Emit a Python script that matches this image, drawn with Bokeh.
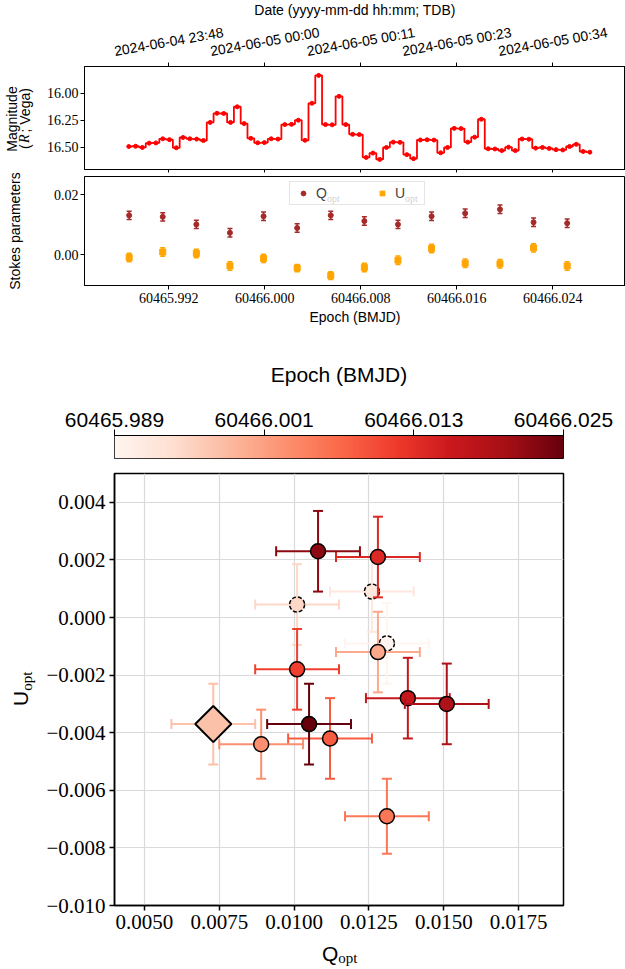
import datetime as dt
import numpy as np
from bokeh.plotting import figure
from bokeh.layouts import column, row
from bokeh.models import (Range1d, FixedTicker, LinearAxis, Label, Legend, LegendItem,
                          CustomJSTickFormatter, LinearColorMapper, CustomLabelingPolicy)
from bokeh.core.properties import value
from bokeh.embed import file_html
from bokeh.resources import INLINE

# ---------------- data ----------------
# R-band light curve (BMJD, Vega magnitude)
lc_epoch = [60465.98867, 60465.98924, 60465.98980, 60465.99037, 60465.99093, 60465.99150,
            60465.99206, 60465.99263, 60465.99319, 60465.99376, 60465.99432, 60465.99489,
            60465.99545, 60465.99602, 60465.99658, 60465.99715, 60465.99771, 60465.99828,
            60465.99884, 60465.99941, 60465.99997, 60466.00054, 60466.00110, 60466.00167,
            60466.00223, 60466.00280, 60466.00336, 60466.00393, 60466.00449, 60466.00506,
            60466.00562, 60466.00619, 60466.00675, 60466.00732, 60466.00788, 60466.00845,
            60466.00901, 60466.00958, 60466.01014, 60466.01071, 60466.01127, 60466.01184,
            60466.01240, 60466.01297, 60466.01353, 60466.01410, 60466.01466, 60466.01523,
            60466.01579, 60466.01636, 60466.01692, 60466.01749, 60466.01805, 60466.01862,
            60466.01918, 60466.01975, 60466.02031, 60466.02088, 60466.02144, 60466.02201,
            60466.02257, 60466.02314, 60466.02370, 60466.02427, 60466.02483, 60466.02540,
            60466.02596, 60466.02653, 60466.02709]
lc_mag = [16.491, 16.489, 16.500, 16.460, 16.458, 16.420, 16.428, 16.503, 16.408, 16.420,
          16.423, 16.436, 16.269, 16.185, 16.187, 16.269, 16.125, 16.280, 16.416, 16.457,
          16.455, 16.420, 16.423, 16.289, 16.287, 16.249, 16.434, 16.093, 15.836, 16.289,
          16.291, 16.029, 16.289, 16.379, 16.381, 16.592, 16.552, 16.610, 16.500, 16.451,
          16.453, 16.566, 16.603, 16.431, 16.429, 16.432, 16.549, 16.500, 16.324, 16.326,
          16.451, 16.405, 16.240, 16.512, 16.514, 16.529, 16.497, 16.529, 16.422, 16.424,
          16.506, 16.500, 16.509, 16.520, 16.523, 16.491, 16.471, 16.537, 16.543]

# optical Stokes parameters
pol_epoch = [60465.9887, 60465.9915, 60465.9943, 60465.9971, 60465.9999, 60466.0027, 60466.0055,
             60466.0083, 60466.0111, 60466.0139, 60466.0167, 60466.0196, 60466.0224, 60466.0252]
q_opt = [0.0131, 0.0126, 0.0101, 0.0073, 0.0128, 0.0089, 0.0131,
         0.0112, 0.0101, 0.0128, 0.0138, 0.0151, 0.0108, 0.0105]
q_err = [0.0014, 0.0014, 0.0014, 0.0014, 0.0014, 0.0014, 0.0014,
         0.0014, 0.0014, 0.0014, 0.0014, 0.0014, 0.0014, 0.0014]
u_opt = [-0.0009, 0.0009, 0.00045, -0.0037, -0.0012, -0.0044, -0.0069,
         -0.0042, -0.0018, 0.0021, -0.0028, -0.0030, 0.0023, -0.0037]
u_err = [0.0014, 0.0014, 0.0014, 0.0014, 0.0014, 0.0012, 0.0013,
         0.0014, 0.0014, 0.0014, 0.0014, 0.0014, 0.0014, 0.0014]

epoch_ticks = [60465.992, 60466.000, 60466.008, 60466.016, 60466.024]
mag_ticks = [16.00, 16.25, 16.50]
stokes_ticks = [0.00, 0.02]
q_ticks = [0.0050, 0.0075, 0.0100, 0.0125, 0.0150, 0.0175]
u_ticks = [-0.010, -0.008, -0.006, -0.004, -0.002, 0.000, 0.002, 0.004]

# ---------------- style ----------------
SANS = "Liberation Sans"
SERIF = "Liberation Serif"
W = 625
STRIP = 40                 # width of the side strips that hold rotated titles
DASHED_EDGE = {0, 1, 2}    # earliest points drawn with dashed outlines
HIGHLIGHT = 3              # point drawn as a large diamond
Q_COLOR = "#a52a2a"
U_COLOR = "#ffa500"

REDS = ['#fff5f0', '#fee0d2', '#fcbba1', '#fc9272', '#fb6a4a',
        '#ef3b2c', '#cb181d', '#a50f15', '#67000d']


def reds(t):
    t = min(max(t, 0.0), 1.0) * (len(REDS) - 1)
    i = min(int(t), len(REDS) - 2)
    f = t - i
    a = [int(REDS[i][k:k + 2], 16) for k in (1, 3, 5)]
    b = [int(REDS[i + 1][k:k + 2], 16) for k in (1, 3, 5)]
    return "#%02x%02x%02x" % tuple(int(round(x + (y - x) * f)) for x, y in zip(a, b))


PALETTE = [reds(i / 255) for i in range(256)]


def mjd_to_label(mjd):
    t = dt.datetime(1858, 11, 17) + dt.timedelta(days=mjd)
    return t.strftime("%Y-%m-%d %H:%M")


def tidy_axis(ax, font=SERIF, size="14px", tick_out=4, standoff=2, width=1):
    ax.major_tick_in = 0
    ax.major_tick_out = tick_out
    ax.minor_tick_in = 0
    ax.minor_tick_out = 0
    ax.major_tick_line_width = width
    ax.axis_line_width = width
    ax.axis_line_color = "black"
    ax.major_tick_line_color = "black"
    ax.major_label_text_font = font
    ax.major_label_text_font_size = size
    ax.major_label_text_color = "black"
    ax.major_label_standoff = standoff


def make_fig(**kw):
    p = figure(output_backend="svg", toolbar_location=None, frame_align=False,
               background_fill_color="white", border_fill_color="white", **kw)
    p.outline_line_color = "black"
    p.outline_line_width = 1
    return p


def text_panel(width, height, x_range=None):
    """A bare figure whose frame fills the canvas; used to hold free text."""
    p = make_fig(width=width, height=height,
                 x_range=x_range if x_range is not None else Range1d(0, width),
                 y_range=Range1d(0, height), x_axis_location=None, y_axis_location=None,
                 min_border_left=0, min_border_right=0, min_border_top=0,
                 min_border_bottom=0)
    p.outline_line_color = None
    p.grid.visible = False
    return p


def put_text(p, x, y, text, font=SANS, size="14px", angle=0.0, align="center",
             style="normal"):
    p.text(x=[x], y=[y], text=[text], angle=angle, text_font=value(font),
           text_font_size=value(size), text_font_style=value(style),
           text_align=value(align), text_baseline=value("middle"), text_color="black")


def note(p, text, x, y, font=SANS, size="14px"):
    p.add_layout(Label(x=x, y=y, x_units="screen", y_units="screen", text=text,
                       text_align="left", text_baseline="middle", text_font=font,
                       text_font_size=size, text_color="black"))


fmt2 = CustomJSTickFormatter(code="return tick.toFixed(2);")
fmt3 = CustomJSTickFormatter(code="return tick.toFixed(3);")
no_labels = CustomLabelingPolicy(code="for (const i of indices) indices.unset(i);")

# ---------------- date header ----------------
x0, x1 = 60465.98498, 60466.03006
shared_x = Range1d(x0, x1)
LC_FRAME_LEFT = 84
per_px = (x1 - x0) / (W - LC_FRAME_LEFT)
HEAD_H = 58
header = text_panel(W, HEAD_H, Range1d(x0 - LC_FRAME_LEFT * per_px, x1))
for t in epoch_ticks:
    put_text(header, t, HEAD_H - 41, mjd_to_label(t), angle=np.deg2rad(10))
put_text(header, (x0 + x1) / 2, HEAD_H - 9.5, "Date (yyyy-mm-dd hh:mm; TDB)")

# ---------------- light curve panel ----------------
LC_H = 118
p_lc = make_fig(width=W - STRIP, height=LC_H, x_range=shared_x,
                y_range=Range1d(16.703, 15.754), x_axis_location=None,
                y_axis_location=None, min_border_left=LC_FRAME_LEFT - STRIP,
                min_border_right=0, min_border_top=6, min_border_bottom=3)
p_lc.grid.visible = False
ax = LinearAxis(ticker=FixedTicker(ticks=mag_ticks), formatter=fmt2)
tidy_axis(ax)
p_lc.add_layout(ax, "left")
for side, out in (("above", 4), ("below", 3)):
    ax = LinearAxis(ticker=FixedTicker(ticks=epoch_ticks), formatter=fmt3)
    tidy_axis(ax, standoff=0, tick_out=out, size="1px")
    ax.major_label_policy = no_labels
    p_lc.add_layout(ax, side)

p_lc.step(lc_epoch, lc_mag, mode="center", line_color="#ff0000", line_width=1.8)
p_lc.scatter(lc_epoch, lc_mag, size=4, color="#ff0000")

# ---------------- Stokes parameters panel ----------------
POL_H = 154
p_pol = make_fig(width=W - STRIP, height=POL_H, x_range=shared_x,
                 y_range=Range1d(-0.0102, 0.026), x_axis_location=None,
                 y_axis_location=None, min_border_left=LC_FRAME_LEFT - STRIP,
                 min_border_right=0, min_border_top=0, min_border_bottom=45)
p_pol.grid.visible = False
ax = LinearAxis(ticker=FixedTicker(ticks=stokes_ticks), formatter=fmt2)
tidy_axis(ax)
p_pol.add_layout(ax, "left")
ax = LinearAxis(ticker=FixedTicker(ticks=epoch_ticks), formatter=fmt3,
                axis_label="Epoch (BMJD)")
tidy_axis(ax, standoff=3)
ax.axis_label_text_font = SANS
ax.axis_label_text_font_size = "14px"
ax.axis_label_text_font_style = "normal"
ax.axis_label_text_color = "black"
ax.axis_label_standoff = 3
p_pol.add_layout(ax, "below")

q = np.array(q_opt)
qe = np.array(q_err)
u = np.array(u_opt)
ue = np.array(u_err)

legend_items = []
for vals, errs, col, mk, sz, name in ((q, qe, Q_COLOR, "circle", 5, "Q"),
                                     (u, ue, U_COLOR, "square", 6, "U")):
    p_pol.segment(x0=pol_epoch, x1=pol_epoch, y0=vals - errs, y1=vals + errs,
                  line_color=col, line_width=1.5)
    p_pol.scatter(pol_epoch, vals - errs, marker="dash", size=5, line_color=col, line_width=1.5)
    p_pol.scatter(pol_epoch, vals + errs, marker="dash", size=5, line_color=col, line_width=1.5)
    r = p_pol.scatter(pol_epoch, vals, marker=mk, size=sz, color=col)
    legend_items.append(LegendItem(label=name, renderers=[r]))

legend = Legend(items=legend_items, orientation="horizontal", location=(205, 80),
                padding=3, glyph_width=20, glyph_height=12, label_standoff=3,
                label_width=26, spacing=30, margin=0,
                border_line_color="#cccccc", border_line_width=1,
                background_fill_color="white", background_fill_alpha=0.8,
                label_text_font=SANS, label_text_font_size="14px")
p_pol.add_layout(legend)
note(p_pol, "opt", 242.5, 87, font=SERIF, size="10px")
note(p_pol, "opt", 320.5, 87, font=SERIF, size="10px")

# side strip with the rotated titles of both upper panels
strip_top = text_panel(STRIP, LC_H + POL_H)
bottom = HEAD_H + LC_H + POL_H
put_text(strip_top, 11, bottom - 118.5, "Magnitude", angle=np.pi / 2)
put_text(strip_top, 24, bottom - 148.5, "(", angle=np.pi / 2, align="left")
put_text(strip_top, 24, bottom - 142.5, "R", font=SERIF, style="italic", angle=np.pi / 2,
         align="left")
put_text(strip_top, 24, bottom - 132.0, "; Vega)", angle=np.pi / 2, align="left")
put_text(strip_top, 14, bottom - 230.5, "Stokes parameters", angle=np.pi / 2)

# ---------------- colour bar ----------------
emin, emax = min(pol_epoch), max(pol_epoch)
p_cb = make_fig(width=W, height=130, x_range=Range1d(emin, emax), y_range=Range1d(0, 1),
                x_axis_location=None, y_axis_location=None,
                min_border_left=114, min_border_right=62, min_border_top=105,
                min_border_bottom=2)
p_cb.grid.visible = False
mapper = LinearColorMapper(palette=PALETTE, low=emin, high=emax)
p_cb.image(image=[np.linspace(emin, emax, 256).reshape(1, -1)], x=emin, y=0,
           dw=emax - emin, dh=1, color_mapper=mapper)
cb_ticks = [float(v) for v in np.linspace(emin, emax, 4)]
ax = LinearAxis(ticker=FixedTicker(ticks=cb_ticks), formatter=fmt3,
                axis_label="Epoch (BMJD)")
tidy_axis(ax, font=SANS, size="21px", tick_out=6, standoff=3)
ax.axis_label_text_font = SANS
ax.axis_label_text_font_size = "21px"
ax.axis_label_text_font_style = "normal"
ax.axis_label_text_color = "black"
ax.axis_label_standoff = 24
p_cb.add_layout(ax, "above")

# ---------------- Q-U plane ----------------
QU_H = 480
p_qu = make_fig(width=W - STRIP, height=QU_H, x_range=Range1d(0.004, 0.019),
                y_range=Range1d(-0.010, 0.005),
                min_border_left=114 - STRIP, min_border_right=62, min_border_top=13,
                min_border_bottom=35)
p_qu.outline_line_width = 1.5
p_qu.xaxis.ticker = FixedTicker(ticks=q_ticks)
p_qu.yaxis.ticker = FixedTicker(ticks=u_ticks)
p_qu.xaxis.formatter = CustomJSTickFormatter(code="return tick.toFixed(4);")
p_qu.yaxis.formatter = CustomJSTickFormatter(
    code="return (tick < -1e-12 ? '\\u2212' : '') + Math.abs(tick).toFixed(3);")
for a in (p_qu.xaxis[0], p_qu.yaxis[0]):
    tidy_axis(a, size="21px", tick_out=5, standoff=4, width=1.5)
p_qu.grid.grid_line_color = "#dadada"
p_qu.grid.grid_line_width = 1.2

qlo, qhi = q - qe, q + qe
ulo, uhi = u - ue, u + ue
colours = [reds((e - emin) / (emax - emin)) for e in pol_epoch]

for i in range(len(pol_epoch)):
    c = colours[i]
    s = slice(i, i + 1)
    p_qu.segment(x0=qlo[s], x1=qhi[s], y0=u[s], y1=u[s], line_color=c, line_width=2)
    p_qu.segment(x0=q[s], x1=q[s], y0=ulo[s], y1=uhi[s], line_color=c, line_width=2)
    p_qu.scatter(qlo[s], u[s], marker="dash", angle=np.pi / 2, size=10, line_color=c, line_width=2)
    p_qu.scatter(qhi[s], u[s], marker="dash", angle=np.pi / 2, size=10, line_color=c, line_width=2)
    p_qu.scatter(q[s], ulo[s], marker="dash", size=10, line_color=c, line_width=2)
    p_qu.scatter(q[s], uhi[s], marker="dash", size=10, line_color=c, line_width=2)
    if i == HIGHLIGHT:
        p_qu.scatter(q[s], u[s], marker="square", angle=np.pi / 4, size=25.5,
                     fill_color=c, line_color="black", line_width=2)
    elif i in DASHED_EDGE:
        p_qu.scatter(q[s], u[s], marker="circle", size=15, fill_color=c,
                     line_color="black", line_width=1.5, line_dash="4 2")
    else:
        p_qu.scatter(q[s], u[s], marker="circle", size=15, fill_color=c,
                     line_color="black", line_width=1.5)

strip_qu = text_panel(STRIP, QU_H)
qu_bottom = 460 + QU_H
put_text(strip_qu, 20.2, qu_bottom - 705.5, "U", size="21px", angle=np.pi / 2,
         align="left")
put_text(strip_qu, 26.3, qu_bottom - 690.3, "opt", font=SERIF, size="15px",
         angle=np.pi / 2, align="left")

FOOT_H = 969 - qu_bottom
footer = text_panel(W, FOOT_H)
put_text(footer, 321.4, 969 - 953, "Q", size="21px", align="left")
put_text(footer, 337.7, 969 - 957.8, "opt", font=SERIF, size="15px", align="left")

layout = column(header,
                row(strip_top, column(p_lc, p_pol, spacing=0), spacing=0),
                p_cb,
                row(strip_qu, p_qu, spacing=0),
                footer, spacing=0)
open("out.html", "w", encoding="utf-8").write(file_html(layout, INLINE))
